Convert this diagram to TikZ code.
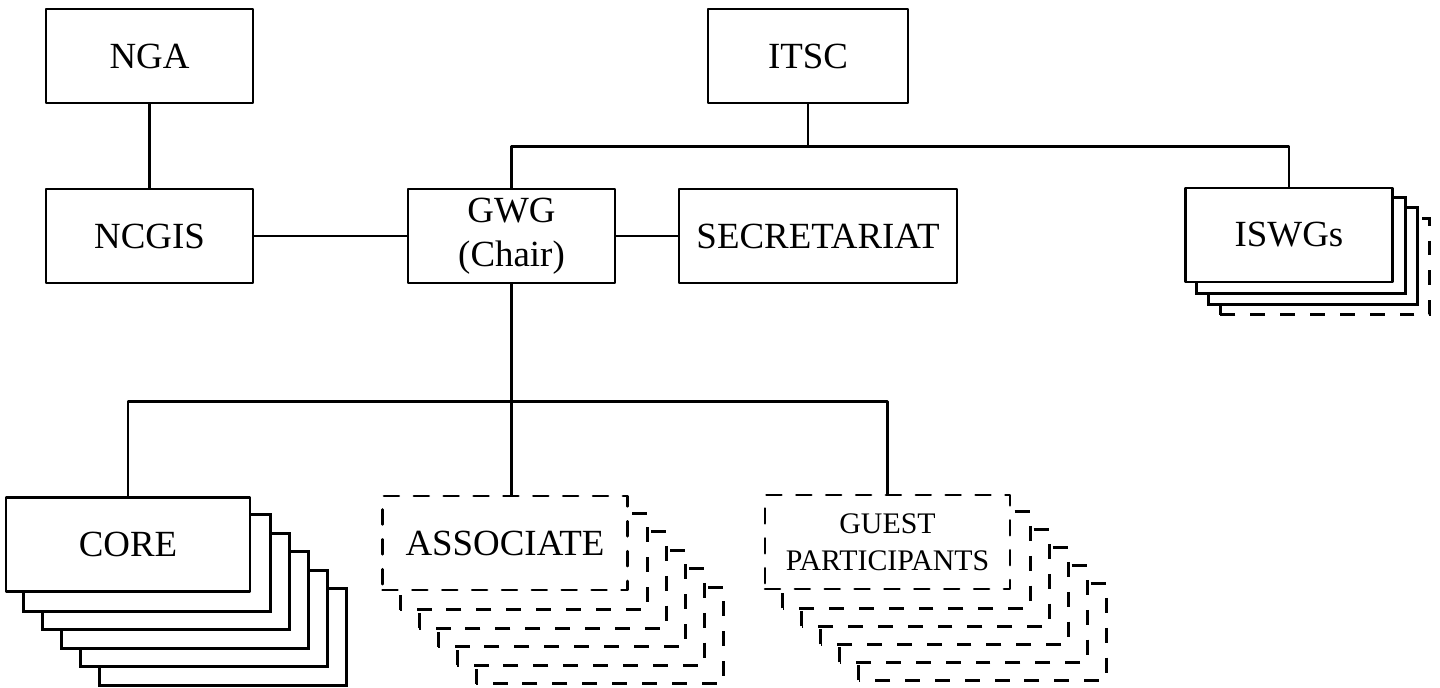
\documentclass[tikz,border=0pt]{standalone}
\usepackage{fontspec}
\setmainfont{Liberation Serif}
\usetikzlibrary{calc}
\usetikzlibrary{backgrounds}

\begin{document}
\begin{tikzpicture}[line cap=round,line join=round,x=0.02cm,y=-0.02cm,
  box/.style={draw,line width=1.5pt,fill=white,minimum width=4.14cm,minimum height=1.88cm,inner sep=0pt,align=center,font=\fontsize{21}{25}\selectfont},
  dashy/.style={dash pattern=on 8.5pt off 8.5pt},
  dashbox/.style={box,dashy},
  card/.style={line width=1.5pt,fill=white},
  link/.style={line width=1.5pt}]
\useasboundingbox (0,0) rectangle (1440,688);
% top row
\node[box] (NGA) at (149.5,56) {NGA};
\node[box,minimum width=4cm] (ITSC) at (808,56) {ITSC};
% middle row
\node[box] (NCGIS) at (149.5,236) {NCGIS};
\node[box] (GWG) at (511.5,236) {GWG\\(Chair)};
\node[box,minimum width=5.56cm] (SEC) at (818,236) {SECRETARIAT};
\node[box] (ISWG) at (1289,235) {ISWGs};
% bottom row
\node[box,minimum width=4.88cm] (CORE) at (128,544.5) {CORE};
\node[dashbox,minimum width=4.9cm] (ASSOC) at (505,543) {ASSOCIATE};
\node[dashbox,minimum width=4.9cm,font=\fontsize{17}{21}\selectfont] (GUEST) at (887.5,542) {GUEST\\PARTICIPANTS};
% stacked copies behind
\begin{scope}[on background layer]
\foreach \i/\s in {3/dashy,2/solid,1/solid}
  \draw[card,\s] ($(ISWG.south west)+(\i*12,\i*10.5)$) rectangle ($(ISWG.north east)+(\i*12,\i*10.5)$);
\foreach \i in {5,4,3,2,1}
  \draw[card] ($(CORE.south west)+(\i*19,\i*18.5)$) rectangle ($(CORE.north east)+(\i*19,\i*18.5)$);
\foreach \i in {5,4,3,2,1}
  \draw[card,dashy] ($(ASSOC.south west)+(\i*19,\i*18.5)$) rectangle ($(ASSOC.north east)+(\i*19,\i*18.5)$);
\foreach \i in {5,4,3,2,1}
  \draw[card,dashy] ($(GUEST.south west)+(\i*19,\i*18)$) rectangle ($(GUEST.north east)+(\i*19,\i*18)$);
\end{scope}
% connectors
\draw[link] (NGA) -- (NCGIS);
\draw[link] (NCGIS) -- (GWG);
\draw[link] (GWG) -- (SEC);
\draw[link] (ITSC.south) -- ++(0,42) coordinate (tb);
\draw[link] (GWG.north) |- (tb) -| (ISWG.north);
\path (GWG.south) ++(0,117) coordinate (bb);
\draw[link] (GWG.south) -- (GWG.south |- ASSOC.north);
\draw[link] (CORE.north) |- (bb) -| (GUEST.north);
\end{tikzpicture}
\end{document}
